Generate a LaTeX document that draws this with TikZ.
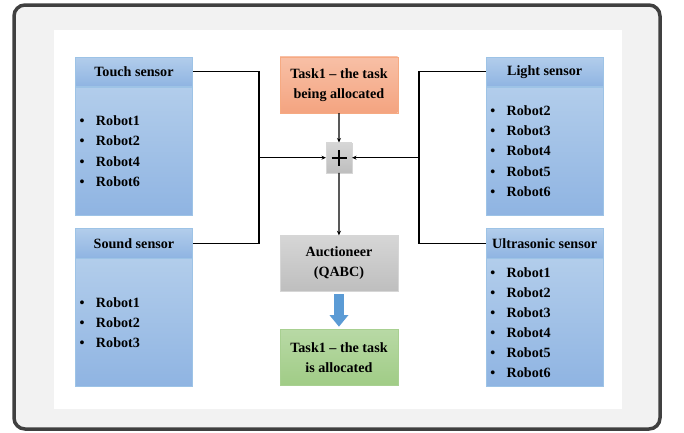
\documentclass[tikz,border=0pt]{standalone}
\usepackage{fontspec}
\setmainfont{Liberation Serif}
\usepackage{tikz}
\usetikzlibrary{arrows.meta,positioning}
\definecolor{frameink}{RGB}{64,64,64}
\definecolor{framefill}{RGB}{242,242,242}
\definecolor{sensedge}{RGB}{157,195,230}
\definecolor{senstop}{RGB}{178,205,235}
\definecolor{sensbot}{RGB}{143,180,226}
\definecolor{tasktop}{RGB}{248,192,166}
\definecolor{taskbot}{RGB}{244,164,128}
\definecolor{taskedge}{RGB}{246,170,130}
\definecolor{donetop}{RGB}{184,217,165}
\definecolor{donebot}{RGB}{160,204,134}
\definecolor{doneedge}{RGB}{168,208,145}
\definecolor{auctop}{RGB}{214,214,214}
\definecolor{aucbot}{RGB}{190,190,190}
\definecolor{flowblue}{RGB}{91,155,213}

\begin{document}
\begin{tikzpicture}[
  x=1bp, y=-1bp,
  font=\fontsize{14.2}{20.2}\selectfont\bfseries,
  hdr/.style={draw=sensedge, line width=0.6pt, top color=senstop, bottom color=sensbot, rectangle, minimum width=117.3bp, minimum height=29.5bp, inner sep=0pt, anchor=north west},
  lst/.style={draw=sensedge, line width=0.6pt, top color=senstop, bottom color=sensbot, rectangle, minimum width=117.3bp, minimum height=128bp, inner xsep=4.3bp, text width=108.7bp, align=left},
  taskbox/.style={rectangle, minimum width=117.5bp, minimum height=56bp, align=center, inner sep=0pt, anchor=north west},
  arr/.style={-{Stealth[length=4.5bp,width=4bp]}, line width=1.1pt},
  wire/.style={line width=1.1pt}
]
\useasboundingbox (0,0) rectangle (684,432);
% frame and white sheet
\draw[line width=3.5bp, draw=frameink, fill=framefill, rounded corners=11bp] (14,5) rectangle (660,429);
\fill[white] (54,30) rectangle (622,409);

% sensor boxes
\node[hdr] (touchh) at (75,56.7) {Touch sensor};
\node[lst, below=0pt of touchh] (touchl) {\makebox[16.4bp][l]{\textbullet}Robot1\\\makebox[16.4bp][l]{\textbullet}Robot2\\\makebox[16.4bp][l]{\textbullet}Robot4\\\makebox[16.4bp][l]{\textbullet}Robot6};
\node[hdr] (soundh) at (75,228.3) {Sound sensor};
\node[lst, below=0pt of soundh] (soundl) {\makebox[16.4bp][l]{\textbullet}Robot1\\\makebox[16.4bp][l]{\textbullet}Robot2\\\makebox[16.4bp][l]{\textbullet}Robot3};
\node[hdr] (lighth) at (485.7,56.7) {Light sensor};
\node[lst, below=0pt of lighth] (lightl) {\makebox[16.4bp][l]{\textbullet}Robot2\\\makebox[16.4bp][l]{\textbullet}Robot3\\\makebox[16.4bp][l]{\textbullet}Robot4\\\makebox[16.4bp][l]{\textbullet}Robot5\\\makebox[16.4bp][l]{\textbullet}Robot6};
\node[hdr] (ultrah) at (485.7,228.3) {Ultrasonic sensor};
\node[lst, below=0pt of ultrah] (ultral) {\makebox[16.4bp][l]{\textbullet}Robot1\\\makebox[16.4bp][l]{\textbullet}Robot2\\\makebox[16.4bp][l]{\textbullet}Robot3\\\makebox[16.4bp][l]{\textbullet}Robot4\\\makebox[16.4bp][l]{\textbullet}Robot5\\\makebox[16.4bp][l]{\textbullet}Robot6};

% middle column
\node[taskbox, draw=taskedge, top color=tasktop, bottom color=taskbot] (task) at (280,56.7) {Task1 -- the task\\being allocated};
\node[rectangle, draw=auctop, line width=0.4pt, top color=auctop, bottom color=aucbot, minimum width=25.7bp, minimum height=30bp, inner sep=0pt] (plus) at (339,157.7) {};
\draw[line width=2.4bp] ([xshift=-7.5bp]plus.center) -- ([xshift=7.5bp]plus.center);
\draw[line width=2.4bp] ([yshift=-8bp]plus.center) -- ([yshift=8bp]plus.center);
\node[taskbox, draw=auctop, top color=auctop, bottom color=aucbot] (auct) at (280,235.3) {Auctioneer\\(QABC)};
\node[taskbox, draw=doneedge, top color=donetop, bottom color=donebot] (done) at (280,329.3) {Task1 -- the task\\is allocated};

\coordinate (ljoin) at (259,157.7);
\coordinate (rjoin) at (419,157.7);

\draw[wire] (touchh.east) -| (ljoin) |- (soundh.east);
\draw[wire] (lighth.west) -| (rjoin) |- (ultrah.west);
\draw[arr] (ljoin) -- (plus.west);
\draw[arr] (rjoin) -- (plus.east);
\draw[arr] (task.south) -- (plus.north);
\draw[arr] (plus.south) -- (auct.north);
\draw[flowblue, line width=9.7bp, -{Triangle[width=18.3bp,length=11.7bp]}, shorten <=2.4bp, shorten >=2.6bp] (auct.south) -- (done.north);
\end{tikzpicture}
\end{document}
